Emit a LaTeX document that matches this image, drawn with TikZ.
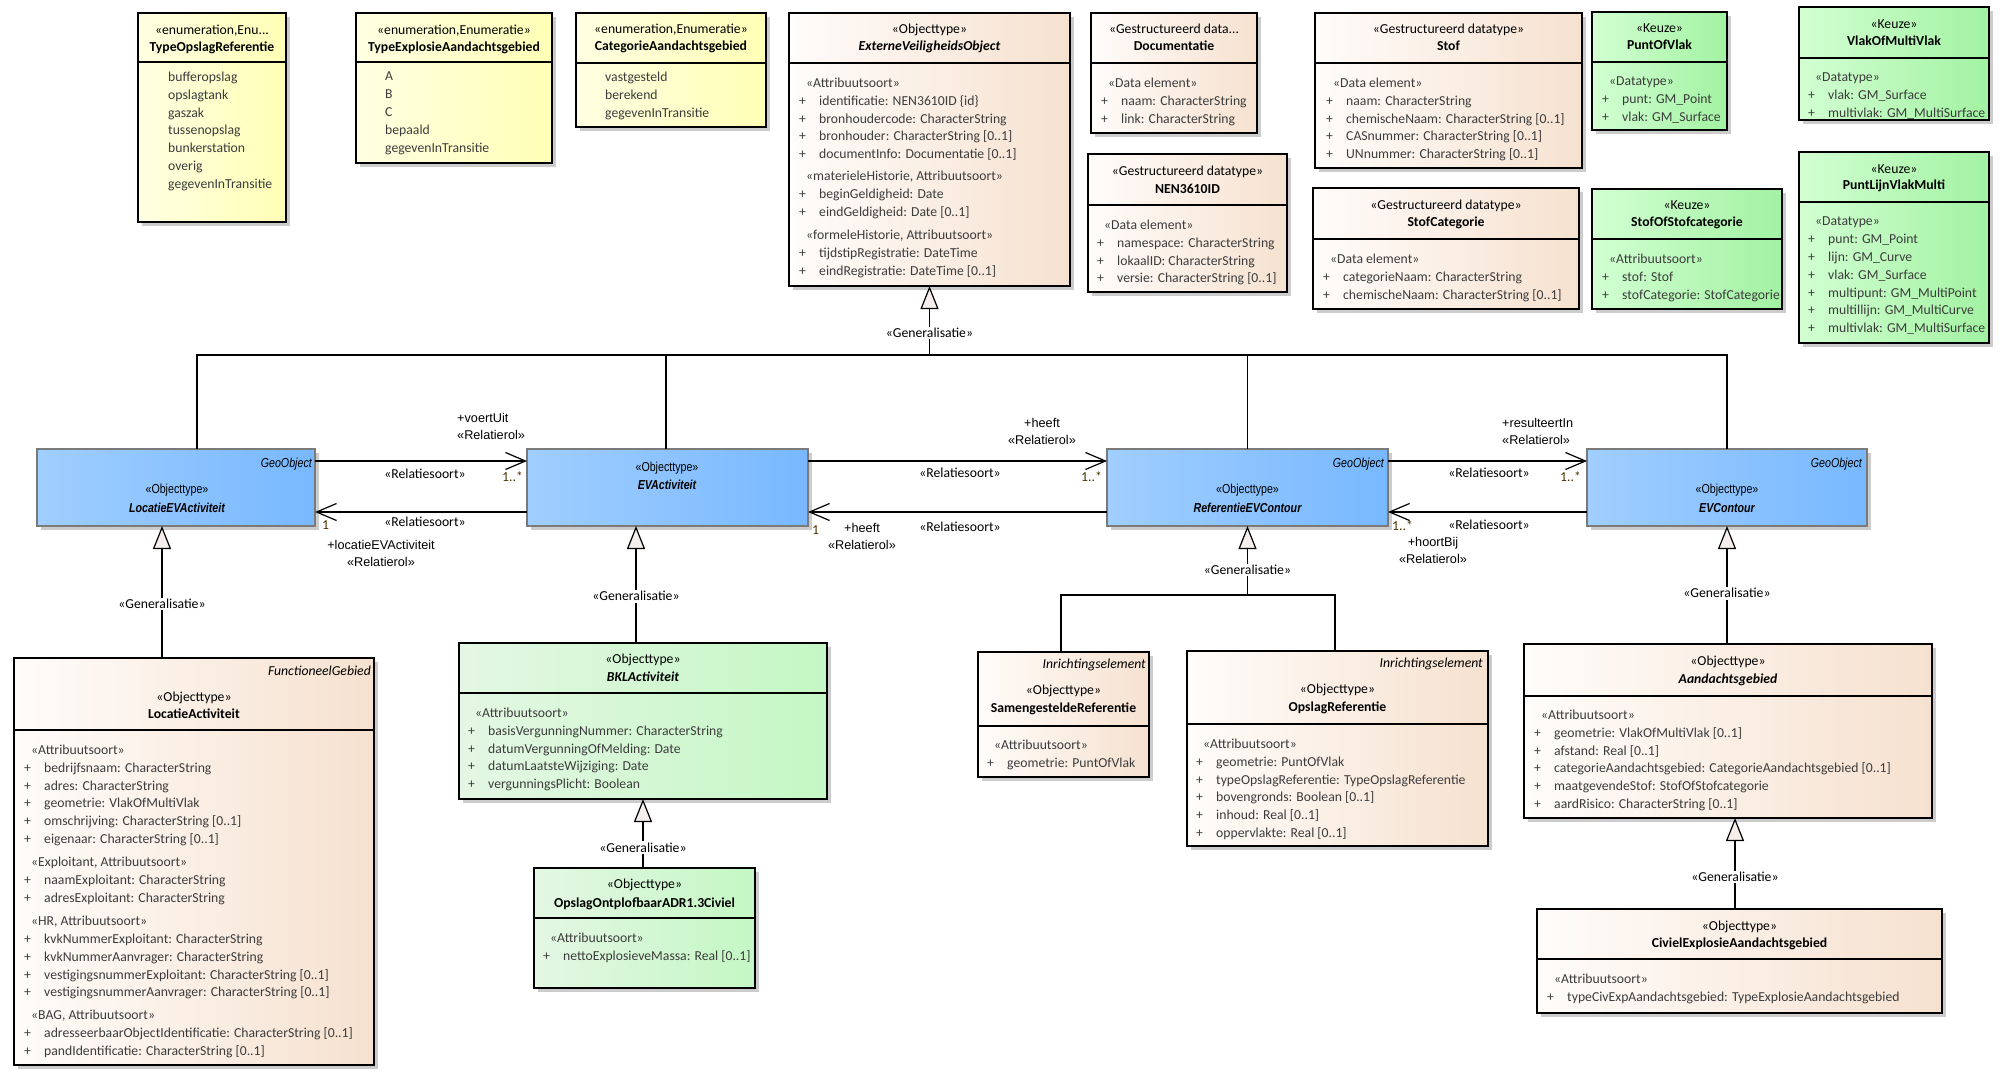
\documentclass[tikz,border=0pt]{standalone}
\usepackage{fontspec}
\setmainfont{Carlito}
\newfontfamily\arialfont{Liberation Sans}
\newfontfamily\narrowfont[FakeStretch=0.82]{Liberation Sans}
\usepackage{tikz}
\usetikzlibrary{arrows.meta, positioning, fit, shadows}

\definecolor{enumL}{HTML}{FFFFE2}
\definecolor{enumR}{HTML}{FFFFB6}
\definecolor{objL}{HTML}{FFFCFA}
\definecolor{objR}{HTML}{F6E1CF}
\definecolor{keuL}{HTML}{D2FFD2}
\definecolor{keuR}{HTML}{A2F2A2}
\definecolor{bklL}{HTML}{E4F7E4}
\definecolor{bklR}{HTML}{C4F7C4}
\definecolor{geoL}{HTML}{A0CEFF}
\definecolor{geoR}{HTML}{78B8FF}
\definecolor{geoB}{HTML}{7A7A7A}
\definecolor{triF}{HTML}{F5EEEA}
\definecolor{attrC}{HTML}{3C3C3C}
\definecolor{multC}{HTML}{4D3300}

\newcommand{\pa}[1]{\makebox[20pt][l]{+}#1}
\newcommand{\sect}[1]{\hspace*{7pt}#1}
% box from corners, with the line under its header
\newcommand{\classbox}[7]{%
  \node[#2, fit={(#3,#4) (#5,#6)}] (#1) {};
  \draw[line width=1.2pt] (#1.west |- 0,#7) -- (#1.east |- 0,#7);}

\begin{document}
\begin{tikzpicture}[x=1pt, y=-1pt,
    cls/.style={draw=black, line width=1.2pt, inner sep=0pt, outer sep=0pt,
        drop shadow={shadow xshift=4pt, shadow yshift=-4pt, fill=black!20, opacity=1}},
    enumbox/.style={cls, left color=enumL, right color=enumR},
    objbox/.style={cls, left color=objL, right color=objR},
    keuzebox/.style={cls, left color=keuL, right color=keuR},
    bklbox/.style={cls, left color=bklL, right color=bklR},
    geobox/.style={cls, draw=geoB, left color=geoL, right color=geoR},
    txt/.style={inner sep=0pt, anchor=base, font=\fontsize{13.7}{17.9}\selectfont},
    stereo/.style={txt},
    cname/.style={txt, font=\fontsize{13.7}{17.9}\selectfont\bfseries},
    cnamei/.style={txt, font=\fontsize{13.7}{17.9}\selectfont\bfseries\itshape},
    tagged/.style={txt, anchor=base east, font=\fontsize{13.7}{17.9}\selectfont\itshape},
    attrs/.style={txt, anchor=north west, yshift=9pt, align=left, text=attrC,
        execute at begin node=\strut},
    geost/.style={inner sep=0pt, anchor=base, font=\narrowfont\fontsize{13}{16}\selectfont},
    geonm/.style={geost, font=\narrowfont\fontsize{13}{16}\selectfont\bfseries\itshape},
    geotag/.style={geost, anchor=base east, font=\narrowfont\fontsize{13}{16}\selectfont\itshape},
    genline/.style={line width=1.2pt},
    gen/.style={genline, -{Triangle[length=23pt, width=18pt, fill=triF]}},
    genlabel/.style={fill=white, inner sep=1.5pt, font=\fontsize{13.7}{17.9}\selectfont},
    assoc/.style={line width=1.2pt, -{Straight Barb[length=20pt, width=17pt]}},
    relsoort/.style={txt},
    relrol/.style={inner sep=0pt, anchor=north, yshift=8.75pt, align=center,
        font=\arialfont\fontsize{12.7}{17.5}\selectfont, execute at begin node=\strut},
    relrolL/.style={relrol, anchor=north west, align=left},
    mult/.style={txt, anchor=base west, text=multC}
]
\path[use as bounding box, fill=white] (0,0) rectangle (2011,1084);

% Enumerations
\classbox{tor}{enumbox}{138}{13}{286}{222}{62}
\node[stereo] (tor-st) at (212,34.5) {«enumeration,Enu...};
\node[cname] (tor-nm) at (212,51.5) {TypeOpslagReferentie};
\node[attrs] (tor-at) at (168,80.5) {bufferopslag\\opslagtank\\gaszak\\tussenopslag\\bunkerstation\\overig\\gegevenInTransitie};

\classbox{tea}{enumbox}{356}{13}{552}{163}{62}
\node[stereo] (tea-st) at (454,34.5) {«enumeration,Enumeratie»};
\node[cname] (tea-nm) at (454,51.5) {TypeExplosieAandachtsgebied};
\node[attrs] (tea-at) at (385,80.5) {A\\B\\C\\bepaald\\gegevenInTransitie};

\classbox{cat}{enumbox}{576}{13}{766}{127}{63}
\node[stereo] (cat-st) at (671,33.5) {«enumeration,Enumeratie»};
\node[cname] (cat-nm) at (671,50.5) {CategorieAandachtsgebied};
\node[attrs] (cat-at) at (605,80.5) {vastgesteld\\berekend\\gegevenInTransitie};

% ExterneVeiligheidsObject
\classbox{evo}{objbox}{789}{13}{1070}{286}{63}
\node[stereo] (evo-st) at (929.5,33.5) {«Objecttype»};
\node[cnamei] (evo-nm) at (929.5,50.5) {ExterneVeiligheidsObject};
\node[attrs] (evo-at) at (799,86.5) {\sect{«Attribuutsoort»}\\\pa{identificatie: NEN3610ID \{id\}}\\\pa{bronhoudercode: CharacterString}\\\pa{bronhouder: CharacterString [0..1]}\\\pa{documentInfo: Documentatie [0..1]}\\[4pt]\sect{«materieleHistorie, Attribuutsoort»}\\\pa{beginGeldigheid: Date}\\\pa{eindGeldigheid: Date [0..1]}\\[5pt]\sect{«formeleHistorie, Attribuutsoort»}\\\pa{tijdstipRegistratie: DateTime}\\\pa{eindRegistratie: DateTime [0..1]}};

% Datatypes
\classbox{doc}{objbox}{1091}{13}{1257}{133}{63}
\node[stereo] (doc-st) at (1174,33.5) {«Gestructureerd data...};
\node[cname] (doc-nm) at (1174,50.5) {Documentatie};
\node[attrs] (doc-at) at (1101,86.5) {\sect{«Data element»}\\\pa{naam: CharacterString}\\\pa{link: CharacterString}};

\classbox{nen}{objbox}{1088}{154}{1287}{292}{205}
\node[stereo] (nen-st) at (1187.5,175.5) {«Gestructureerd datatype»};
\node[cname] (nen-nm) at (1187.5,193.5) {NEN3610ID};
\node[attrs] (nen-at) at (1097,228.5) {\sect{«Data element»}\\\pa{namespace: CharacterString}\\\pa{lokaalID: CharacterString}\\\pa{versie: CharacterString [0..1]}};

\classbox{stof}{objbox}{1315}{13}{1582}{168}{63}
\node[stereo] (stof-st) at (1448.5,33.5) {«Gestructureerd datatype»};
\node[cname] (stof-nm) at (1448.5,50.5) {Stof};
\node[attrs] (stof-at) at (1326,86.5) {\sect{«Data element»}\\\pa{naam: CharacterString}\\\pa{chemischeNaam: CharacterString [0..1]}\\\pa{CASnummer: CharacterString [0..1]}\\\pa{UNnummer: CharacterString [0..1]}};

\classbox{scat}{objbox}{1313}{188}{1579}{309}{239}
\node[stereo] (scat-st) at (1446,209.5) {«Gestructureerd datatype»};
\node[cname] (scat-nm) at (1446,226.5) {StofCategorie};
\node[attrs] (scat-at) at (1323,262.5) {\sect{«Data element»}\\\pa{categorieNaam: CharacterString}\\\pa{chemischeNaam: CharacterString [0..1]}};

% Keuzes
\classbox{pov}{keuzebox}{1592}{12}{1727}{130}{62}
\node[stereo] (pov-st) at (1659.5,32.5) {«Keuze»};
\node[cname] (pov-nm) at (1659.5,49.5) {PuntOfVlak};
\node[attrs] (pov-at) at (1602,85.5) {\sect{«Datatype»}\\\pa{punt: GM\_Point}\\\pa{vlak: GM\_Surface}};

\classbox{vmv}{keuzebox}{1799}{7}{1989}{120}{58}
\node[stereo] (vmv-st) at (1894,28.5) {«Keuze»};
\node[cname] (vmv-nm) at (1894,45.5) {VlakOfMultiVlak};
\node[attrs] (vmv-at) at (1808,81.5) {\sect{«Datatype»}\\\pa{vlak: GM\_Surface}\\\pa{multivlak: GM\_MultiSurface}};

\classbox{sos}{keuzebox}{1592}{189}{1782}{309}{239}
\node[stereo] (sos-st) at (1687,209.5) {«Keuze»};
\node[cname] (sos-nm) at (1687,226.5) {StofOfStofcategorie};
\node[attrs] (sos-at) at (1602,262.5) {\sect{«Attribuutsoort»}\\\pa{stof: Stof}\\\pa{stofCategorie: StofCategorie}};

\classbox{plvm}{keuzebox}{1799}{152}{1989}{343}{202}
\node[stereo] (plvm-st) at (1894,173.5) {«Keuze»};
\node[cname] (plvm-nm) at (1894,189.5) {PuntLijnVlakMulti};
\node[attrs] (plvm-at) at (1808,225.5) {\sect{«Datatype»}\\\pa{punt: GM\_Point}\\\pa{lijn: GM\_Curve}\\\pa{vlak: GM\_Surface}\\\pa{multipunt: GM\_MultiPoint}\\\pa{multillijn: GM\_MultiCurve}\\\pa{multivlak: GM\_MultiSurface}};

% GeoObject row
\node[geobox, fit={(37,449) (315,526)}] (lev) {};
\node[geotag] (lev-tag) at (312,467) {GeoObject};
\node[geost] (lev-st) at (177,493.5) {«Objecttype»};
\node[geonm] (lev-nm) at (177,512.5) {LocatieEVActiviteit};

\node[geobox, fit={(527,449) (808,526)}] (evact) {};
\node[geost] (evact-st) at (667,471.5) {«Objecttype»};
\node[geonm] (evact-nm) at (667,489.5) {EVActiviteit};

\node[geobox, fit={(1107,449) (1388,526)}] (refev) {};
\node[geotag] (refev-tag) at (1384,467) {GeoObject};
\node[geost] (refev-st) at (1247.5,493.5) {«Objecttype»};
\node[geonm] (refev-nm) at (1247.5,512.5) {ReferentieEVContour};

\node[geobox, fit={(1587,449) (1867,526)}] (evc) {};
\node[geotag] (evc-tag) at (1862,467) {GeoObject};
\node[geost] (evc-st) at (1727,493.5) {«Objecttype»};
\node[geonm] (evc-nm) at (1727,512.5) {EVContour};

% Lower objecttypes
\classbox{lact}{objbox}{14}{658}{374}{1065}{730}
\node[tagged] (lact-tag) at (371,675.5) {FunctioneelGebied};
\node[stereo] (lact-st) at (194,701.5) {«Objecttype»};
\node[cname] (lact-nm) at (194,718.5) {LocatieActiviteit};
\node[attrs] (lact-at) at (24,753.5) {\sect{«Attribuutsoort»}\\\pa{bedrijfsnaam: CharacterString}\\\pa{adres: CharacterString}\\\pa{geometrie: VlakOfMultiVlak}\\\pa{omschrijving: CharacterString [0..1]}\\\pa{eigenaar: CharacterString [0..1]}\\[5pt]\sect{«Exploitant, Attribuutsoort»}\\\pa{naamExploitant: CharacterString}\\\pa{adresExploitant: CharacterString}\\[5pt]\sect{«HR, Attribuutsoort»}\\\pa{kvkNummerExploitant: CharacterString}\\\pa{kvkNummerAanvrager: CharacterString}\\\pa{vestigingsnummerExploitant: CharacterString [0..1]}\\\pa{vestigingsnummerAanvrager: CharacterString [0..1]}\\[5pt]\sect{«BAG, Attribuutsoort»}\\\pa{adresseerbaarObjectIdentificatie: CharacterString [0..1]}\\\pa{pandIdentificatie: CharacterString [0..1]}};

\classbox{bkl}{bklbox}{459}{643}{827}{799}{693}
\node[stereo] (bkl-st) at (643,663.5) {«Objecttype»};
\node[cnamei] (bkl-nm) at (643,681.5) {BKLActiviteit};
\node[attrs] (bkl-at) at (468,716.5) {\sect{«Attribuutsoort»}\\\pa{basisVergunningNummer: CharacterString}\\\pa{datumVergunningOfMelding: Date}\\\pa{datumLaatsteWijziging: Date}\\\pa{vergunningsPlicht: Boolean}};

\classbox{adr}{bklbox}{534}{868}{755}{988}{918}
\node[stereo] (adr-st) at (644.5,888.5) {«Objecttype»};
\node[cname] (adr-nm) at (644.5,907.5) {OpslagOntplofbaarADR1.3Civiel};
\node[attrs] (adr-at) at (543,941.5) {\sect{«Attribuutsoort»}\\\pa{nettoExplosieveMassa: Real [0..1]}};

\classbox{samen}{objbox}{978}{652}{1149}{777}{726}
\node[tagged] (samen-tag) at (1146,668.5) {Inrichtingselement};
\node[stereo] (samen-st) at (1063.5,694.5) {«Objecttype»};
\node[cname] (samen-nm) at (1063.5,712.5) {SamengesteldeReferentie};
\node[attrs] (samen-at) at (987,748.5) {\sect{«Attribuutsoort»}\\\pa{geometrie: PuntOfVlak}};

\classbox{opsref}{objbox}{1187}{651}{1488}{846}{724}
\node[tagged] (opsref-tag) at (1483,667.5) {Inrichtingselement};
\node[stereo] (opsref-st) at (1337.5,693.5) {«Objecttype»};
\node[cname] (opsref-nm) at (1337.5,711.5) {OpslagReferentie};
\node[attrs] (opsref-at) at (1196,747.5) {\sect{«Attribuutsoort»}\\\pa{geometrie: PuntOfVlak}\\\pa{typeOpslagReferentie: TypeOpslagReferentie}\\\pa{bovengronds: Boolean [0..1]}\\\pa{inhoud: Real [0..1]}\\\pa{oppervlakte: Real [0..1]}};

\classbox{aand}{objbox}{1524}{644}{1932}{818}{696}
\node[stereo] (aand-st) at (1728,665.5) {«Objecttype»};
\node[cnamei] (aand-nm) at (1728,683.5) {Aandachtsgebied};
\node[attrs] (aand-at) at (1534,718.5) {\sect{«Attribuutsoort»}\\\pa{geometrie: VlakOfMultiVlak [0..1]}\\\pa{afstand: Real [0..1]}\\\pa{categorieAandachtsgebied: CategorieAandachtsgebied [0..1]}\\\pa{maatgevendeStof: StofOfStofcategorie}\\\pa{aardRisico: CharacterString [0..1]}};

\classbox{civ}{objbox}{1537}{909}{1942}{1013}{959}
\node[stereo] (civ-st) at (1739.5,930.5) {«Objecttype»};
\node[cname] (civ-nm) at (1739.5,947.5) {CivielExplosieAandachtsgebied};
\node[attrs] (civ-at) at (1547,982.5) {\sect{«Attribuutsoort»}\\\pa{typeCivExpAandachtsgebied: TypeExplosieAandachtsgebied}};

% Generalisations
\coordinate (evojoin) at (evo.south |- 0,355);
\draw[genline] (lev.north -| 197,0) |- (evojoin);
\draw[genline] (evact.north -| 666,0) |- (evojoin);
\draw[genline] (refev.north) |- (evojoin);
\draw[genline] (evc.north) |- (evojoin);
\draw[gen] (evojoin) -- node[genlabel, pos=0.32] (evo-gen) {«Generalisatie»} (evo.south);

\draw[gen] (lact.north -| 162,0) -- node[genlabel, pos=0.41] (lev-gen) {«Generalisatie»} (lev.south -| 162,0);
\draw[gen] (bkl.north -| 636,0) -- node[genlabel, pos=0.40] (evact-gen) {«Generalisatie»} (evact.south -| 636,0);
\draw[gen] (adr.north -| 643,0) -- node[genlabel, pos=0.30] (bkl-gen) {«Generalisatie»} (bkl.south -| 643,0);

\coordinate (refjoin) at (refev.south |- 0,595);
\draw[genline] (samen.north -| 1061,0) |- (refjoin);
\draw[genline] (opsref.north -| 1335,0) |- (refjoin);
\draw[gen] (refjoin) -- node[genlabel, pos=0.36] (refev-gen) {«Generalisatie»} (refev.south);

\draw[gen] (aand.north -| 1727,0) -- node[genlabel, pos=0.43] (evc-gen) {«Generalisatie»} (evc.south -| 1727,0);
\draw[gen] (civ.north -| 1735,0) -- node[genlabel, pos=0.35] (aand-gen) {«Generalisatie»} (aand.south -| 1735,0);

% Relatiesoorten
\draw[assoc] ([yshift=-12pt]lev.north east) -- ([yshift=-12pt]evact.north west);
\draw[assoc] ([yshift=14pt]evact.south west) -- ([yshift=14pt]lev.south east);
\draw[assoc] ([yshift=-12pt]evact.north east) -- ([yshift=-12pt]refev.north west);
\draw[assoc] ([yshift=14pt]refev.south west) -- ([yshift=14pt]evact.south east);
\draw[assoc] ([yshift=-12pt]refev.north east) -- ([yshift=-12pt]evc.north west);
\draw[assoc] ([yshift=14pt]evc.south west) -- ([yshift=14pt]refev.south east);

\node[relrolL] (voert-rol) at (457,421.5) {+voertUit\\«Relatierol»};
\node[relsoort] (voert-rs) at (425,478.5) {«Relatiesoort»};
\node[mult] (voert-m) at (502,481.5) {1..*};

\node[mult] (loc-m) at (322,529.5) {1};
\node[relsoort] (loc-rs) at (425,526.5) {«Relatiesoort»};
\node[relrol] (loc-rol) at (381,548.5) {+locatieEVActiviteit\\«Relatierol»};

\node[relrol] (heeft-rol) at (1042,426.5) {+heeft\\«Relatierol»};
\node[relsoort] (heeft-rs) at (960,477.5) {«Relatiesoort»};
\node[mult] (heeft-m) at (1081,481.5) {1..*};

\node[mult] (heeft2-m) at (812,534.5) {1};
\node[relrol] (heeft2-rol) at (862,531.5) {+heeft\\«Relatierol»};
\node[relsoort] (heeft2-rs) at (960,531.5) {«Relatiesoort»};

\node[relrolL] (res-rol) at (1502,426.5) {+resulteertIn\\«Relatierol»};
\node[relsoort] (res-rs) at (1489,477.5) {«Relatiesoort»};
\node[mult] (res-m) at (1560,481.5) {1..*};

\node[mult] (hoort-m) at (1392,530.5) {1..*};
\node[relrol] (hoort-rol) at (1433,545.5) {+hoortBij\\«Relatierol»};
\node[relsoort] (hoort-rs) at (1489,529.5) {«Relatiesoort»};
\end{tikzpicture}
\end{document}
